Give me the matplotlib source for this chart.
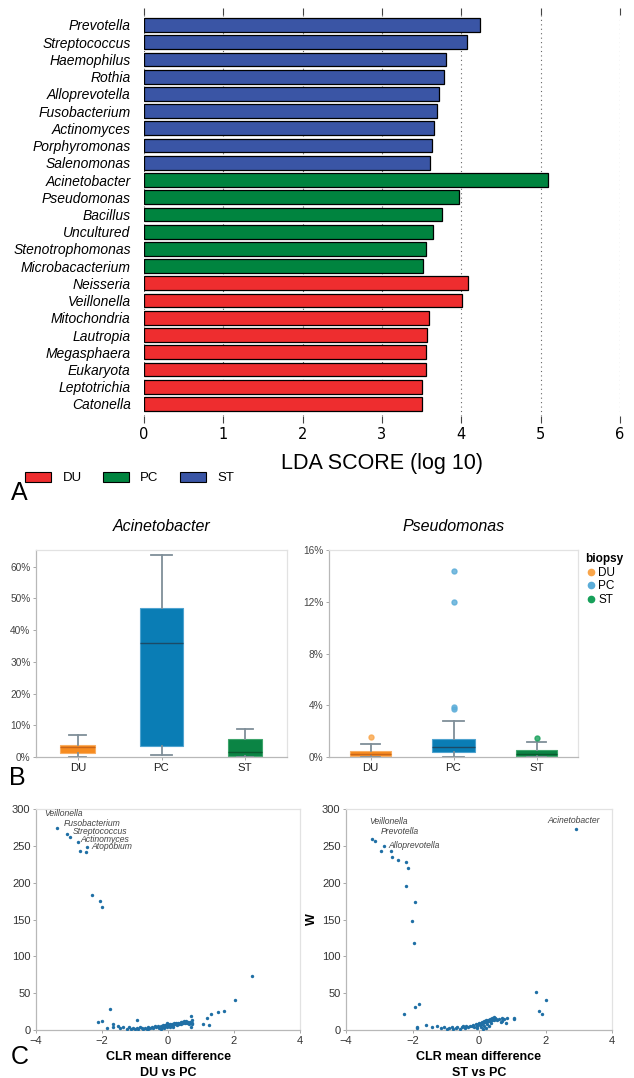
import matplotlib
matplotlib.use('Agg')
import matplotlib.pyplot as plt
from matplotlib.patches import Patch
from matplotlib.lines import Line2D

plt.rcParams['font.family'] = ['Liberation Sans', 'DejaVu Sans']

# ---- LEfSe LDA scores ----
taxa = ['Prevotella', 'Streptococcus', 'Haemophilus', 'Rothia', 'Alloprevotella',
        'Fusobacterium', 'Actinomyces', 'Porphyromonas', 'Salenomonas',
        'Acinetobacter', 'Pseudomonas', 'Bacillus', 'Uncultured', 'Stenotrophomonas',
        'Microbacacterium',
        'Neisseria', 'Veillonella', 'Mitochondria', 'Lautropia', 'Megasphaera',
        'Eukaryota', 'Leptotrichia', 'Catonella']
lda = [4.23, 4.07, 3.81, 3.78, 3.72, 3.69, 3.65, 3.63, 3.61,
       5.09, 3.97, 3.75, 3.64, 3.55, 3.52,
       4.09, 4.01, 3.59, 3.57, 3.55, 3.55, 3.51, 3.50]
taxa_group = ['ST'] * 9 + ['PC'] * 6 + ['DU'] * 8
lefse_colors = {'DU': '#EE2D2F', 'PC': '#00843F', 'ST': '#3A55A5'}

# ---- relative abundance boxplots (percent) ----
biopsy = ['DU', 'PC', 'ST']
acin_q1 = [1.2, 3.5, 0.3]
acin_med = [3.0, 36.0, 1.7]
acin_q3 = [3.8, 46.9, 5.6]
acin_lo = [0.1, 0.6, 0.1]
acin_hi = [6.9, 63.7, 8.9]
acin_out = [[], [], []]

pseu_q1 = [0.05, 0.36, 0.05]
pseu_med = [0.25, 0.77, 0.2]
pseu_q3 = [0.46, 1.42, 0.57]
pseu_lo = [0.0, 0.0, 0.0]
pseu_hi = [1.0, 2.76, 1.14]
pseu_out = [[1.52], [14.4, 11.98, 3.84, 3.7], [1.48]]

box_fill = {'DU': '#F68B1F', 'PC': '#0A7DB5', 'ST': '#0B8444'}
box_edge = {'DU': '#F9AE62', 'PC': '#4FA3CF', 'ST': '#3FA56C'}
box_median = {'DU': '#C9661A', 'PC': '#1C4A66', 'ST': '#0A5A2E'}
dot_light = {'DU': '#F9A54A', 'PC': '#5AACD8', 'ST': '#17A05A'}

# ---- ANCOM volcano: CLR mean difference vs W ----
du_pc_x = [-3.35, -3.06, -2.97, -2.74, -2.68, -2.46, -2.48, -2.30, -2.07, -2.00,
           2.56, 2.02, 1.70, 1.52, 1.30, 1.17, 1.23, 1.06, 0.70, 0.70, 0.72, 0.74, 0.73,
           -1.77, -1.99, -2.12, -1.86, -1.67, -1.67, -1.53, -0.95,
           -1.35, -1.25, -1.18, -1.12, -1.05, -1.00, -0.95, -0.92, -0.85, -0.80,
           -0.75, -0.70, -0.64, -0.60, -0.55, -0.50, -0.46, -0.40, -0.36, -0.30,
           -0.26, -0.22, -0.18, -0.15, -0.12, -0.10, -0.08, -0.05, -0.03, 0.00,
           0.02, 0.05, 0.08, 0.10, 0.12, 0.15, 0.18, 0.20, 0.23, 0.25,
           0.28, 0.30, 0.33, 0.36, 0.38, 0.40, 0.43, 0.46, 0.48, 0.52,
           0.55, 0.58, 0.62, 0.65, 0.68, -0.02, 0.06, -0.20, 0.15, -0.60, -1.45]
du_pc_w = [273.7, 266.6, 261.4, 254.6, 243.3, 248.3, 241.0, 183.5, 175.4, 167.2,
           73.0, 40.3, 26.3, 24.9, 21.7, 15.9, 6.3, 8.2, 19.0, 4.5, 13.0, 10.0, 8.0,
           28.0, 12.7, 10.4, 3.2, 8.6, 4.5, 5.9, 14.0,
           3.5, 2.0, 4.2, 1.5, 3.0, 0.8, 2.2, 1.0, 3.8, 2.5,
           1.2, 3.3, 2.0, 4.0, 2.8, 4.5, 3.2, 5.0, 3.6, 4.8,
           2.6, 5.5, 4.0, 6.2, 3.0, 7.0, 5.0, 6.5, 4.2, 7.5,
           5.6, 8.0, 6.2, 7.2, 8.6, 6.8, 9.0, 7.6, 8.4, 9.6,
           7.0, 10.0, 8.8, 9.4, 11.0, 8.2, 10.4, 9.0, 11.6, 10.0,
           12.0, 9.6, 10.8, 8.6, 11.4, 9.0, 3.4, 1.8, 4.5, 1.0, 2.2]
du_pc_names = ['Veillonella', 'Fusobacterium', 'Streptococcus', 'Actinomyces', 'Atopobium']
du_pc_name_x = [-3.76, -3.15, -2.88, -2.65, -2.32]
du_pc_name_w = [294.5, 280.0, 269.0, 259.0, 249.0]

st_pc_x = [-3.22, -3.12, -2.96, -2.85, -2.64, -2.63, -2.45, -2.19, -2.14, -2.19,
           -1.93, -2.01, -1.95, 2.91,
           1.72, 2.03, 1.81, 1.88,
           -2.26, -1.93, -1.79, -1.86, -1.86, -1.58, -1.42, -1.27, -1.15, -1.05,
           1.05, 1.06, 0.81, 0.70, 0.75, 0.60, 0.65, 0.55, 0.85, 0.68,
           -0.95, -0.90, -0.82, -0.78, -0.70, -0.65, -0.58, -0.52, -0.48, -0.42,
           -0.38, -0.32, -0.28, -0.22, -0.18, -0.14, -0.10, -0.06, -0.03, 0.00,
           0.03, 0.05, 0.08, 0.10, 0.12, 0.14, 0.16, 0.18, 0.20, 0.22,
           0.24, 0.26, 0.28, 0.30, 0.32, 0.34, 0.36, 0.38, 0.40, 0.42,
           0.44, 0.46, 0.48, 0.50, 0.05, 0.15, 0.25, 0.35, -0.05, 0.12, 0.20, 0.30]
st_pc_w = [259.6, 257.0, 242.4, 249.7, 242.4, 234.3, 230.2, 228.4, 219.8, 195.3,
           173.1, 148.2, 118.3, 272.8,
           51.2, 41.2, 26.3, 22.2,
           21.7, 31.3, 34.9, 4.5, 2.5, 6.8, 4.1, 5.0, 3.0, 4.5,
           15.9, 14.5, 9.0, 16.0, 15.5, 14.5, 10.5, 14.0, 16.0, 12.5,
           1.0, 2.5, 3.6, 1.5, 3.0, 4.2, 2.0, 3.8, 5.0, 3.0,
           5.6, 4.2, 6.0, 5.0, 6.8, 4.6, 7.6, 6.0, 8.2, 9.0,
           7.0, 10.0, 8.4, 11.0, 9.2, 12.0, 10.2, 11.4, 13.0, 10.6,
           12.6, 14.0, 11.8, 13.4, 15.0, 12.4, 14.6, 16.0, 13.2, 15.4,
           17.0, 13.8, 15.8, 14.6, 4.0, 6.0, 8.0, 9.6, 3.2, 2.0, 3.0, 5.0]
st_pc_names = ['Veillonella', 'Prevotella', 'Alloprevotella', 'Acinetobacter']
st_pc_name_x = [-3.29, -2.96, -2.71, 3.65]
st_pc_name_w = [283.0, 270.0, 251.0, 284.0]

W, H = 634, 1078
fig = plt.figure(figsize=(W / 100, H / 100), dpi=100)


def frac(left, top, right, bottom):
    return [left / W, 1 - bottom / H, (right - left) / W, (bottom - top) / H]


# ================= A: LDA bar chart =================
axA = fig.add_axes(frac(144, 15, 620, 416))
n = len(taxa)
ypos = [n - 1 - i for i in range(n)]
axA.barh(ypos, lda, height=0.8, color=[lefse_colors[g] for g in taxa_group],
         edgecolor='black', linewidth=0.9, zorder=3)
axA.set_xlim(0, 6)
axA.set_ylim(-0.7, n - 1 + 0.58)
axA.set_yticks(ypos, taxa, fontstyle='italic', fontsize=10)
axA.tick_params(axis='y', length=0, pad=9.5)
axA.set_xticks(range(7))
axA.set_xticklabels([str(i) for i in range(7)], family='DejaVu Sans', fontsize=10.5)
axA.tick_params(axis='x', top=True, bottom=True, direction='out', length=5,
                color='#444', width=0.8, pad=3)
axA.xaxis.grid(True, linestyle=(0, (1, 3)), color='#666', linewidth=0.8, zorder=0)
for s in axA.spines.values():
    s.set_visible(False)
axA.set_xlabel('LDA SCORE (log 10)', fontsize=15.5, labelpad=8)

fig.legend(handles=[Patch(facecolor=lefse_colors[g], edgecolor='black', linewidth=0.8, label=g)
                    for g in ['DU', 'PC', 'ST']],
           loc='center left', bbox_to_anchor=(13 / W, 1 - 478 / H), ncol=3, frameon=False,
           fontsize=9.5, handlelength=2.0, handleheight=0.8, columnspacing=1.6,
           handletextpad=0.85)
fig.text(11 / W, 1 - 493 / H, 'A', fontsize=18, va='center')


# ================= B: boxplots =================
def boxpanel(ax, title, q1, med, q3, lo, hi, out, widths, ymax, ticks):
    for i, g in enumerate(biopsy):
        stat = dict(q1=q1[i], med=med[i], q3=q3[i], whislo=lo[i], whishi=hi[i],
                    fliers=out[i])
        ax.bxp([stat], positions=[i], widths=widths[i], capwidths=widths[i] * 0.48,
               patch_artist=True, showfliers=True,
               boxprops=dict(facecolor=box_fill[g], edgecolor=box_edge[g], linewidth=0.8),
               medianprops=dict(color=box_median[g], linewidth=1.0),
               whiskerprops=dict(color='#7F8F99', linewidth=1.3),
               capprops=dict(color='#7F8F99', linewidth=1.3),
               flierprops=dict(marker='o', markersize=3.6, markerfacecolor=dot_light[g],
                               markeredgecolor=dot_light[g], alpha=0.8))
    ax.set_xlim(-0.5, 2.5)
    ax.set_ylim(0, ymax)
    ax.set_xticks(range(3), biopsy, fontsize=8.2, color='#222')
    ax.set_yticks(ticks, ['%d%%' % t for t in ticks], fontsize=7.3, color='#444')
    ax.tick_params(length=2.5, color='#999', width=0.6, pad=1.5)
    for k, s in ax.spines.items():
        s.set_color('#B8B8B8' if k in ('left', 'bottom') else '#E2E2E2')
        s.set_linewidth(0.9)
    ax.set_title(title, fontstyle='italic', fontsize=11.5, pad=14)


axB1 = fig.add_axes(frac(36, 550, 287, 757))
boxpanel(axB1, 'Acinetobacter', acin_q1, acin_med, acin_q3, acin_lo, acin_hi, acin_out,
         [0.42, 0.52, 0.41], 65.2, [0, 10, 20, 30, 40, 50, 60])

axB2 = fig.add_axes(frac(329, 550, 578, 757))
boxpanel(axB2, 'Pseudomonas', pseu_q1, pseu_med, pseu_q3, pseu_lo, pseu_hi, pseu_out,
         [0.5, 0.52, 0.49], 16, [0, 4, 8, 12, 16])
axB2.legend(handles=[Line2D([], [], marker='o', linestyle='', color=dot_light[g],
                            markersize=4.5, label=g) for g in biopsy],
            title='biopsy', loc='upper left', bbox_to_anchor=(1.0, 1.02), frameon=False,
            fontsize=8.5, title_fontproperties={'weight': 'bold', 'size': 8.5},
            handletextpad=0.1, labelspacing=0.15, borderaxespad=0.2,
            handlelength=1.0, alignment='left')
fig.text(9 / W, 1 - 778 / H, 'B', fontsize=18, va='center')


# ================= C: volcano plots =================
def volcano(ax, xs, ws, names, nx, nw, label):
    ax.scatter(xs, ws, s=6, color='#1F6FA5', linewidths=0, zorder=3)
    for t, x, w in zip(names, nx, nw):
        ha = 'right' if x > 0 else 'left'
        ax.text(x, w, t, fontstyle='italic', fontsize=6.2, color='#444', ha=ha, va='center')
    ax.set_xlim(-4, 4)
    ax.set_ylim(0, 300)
    ax.set_xticks([-4, -2, 0, 2, 4])
    ax.set_yticks(range(0, 301, 50))
    ax.tick_params(labelsize=8, labelcolor='#333', length=2.5, color='#999', width=0.6, pad=1.5)
    for k, s in ax.spines.items():
        s.set_color('#B8B8B8' if k in ('left', 'bottom') else '#E2E2E2')
        s.set_linewidth(0.9)
    ax.set_xlabel('CLR mean difference\n' + label, fontsize=9, fontweight='bold',
                  linespacing=1.45, labelpad=4)


axC1 = fig.add_axes(frac(36, 809, 300, 1030))
volcano(axC1, du_pc_x, du_pc_w, du_pc_names, du_pc_name_x, du_pc_name_w, 'DU vs PC')

axC2 = fig.add_axes(frac(346, 809, 612, 1030))
volcano(axC2, st_pc_x, st_pc_w, st_pc_names, st_pc_name_x, st_pc_name_w, 'ST vs PC')
axC2.set_ylabel('W', fontsize=9, fontweight='bold', labelpad=3)
fig.text(11 / W, 1 - 1057 / H, 'C', fontsize=18, va='center')

fig.savefig('out.png', dpi=100)
